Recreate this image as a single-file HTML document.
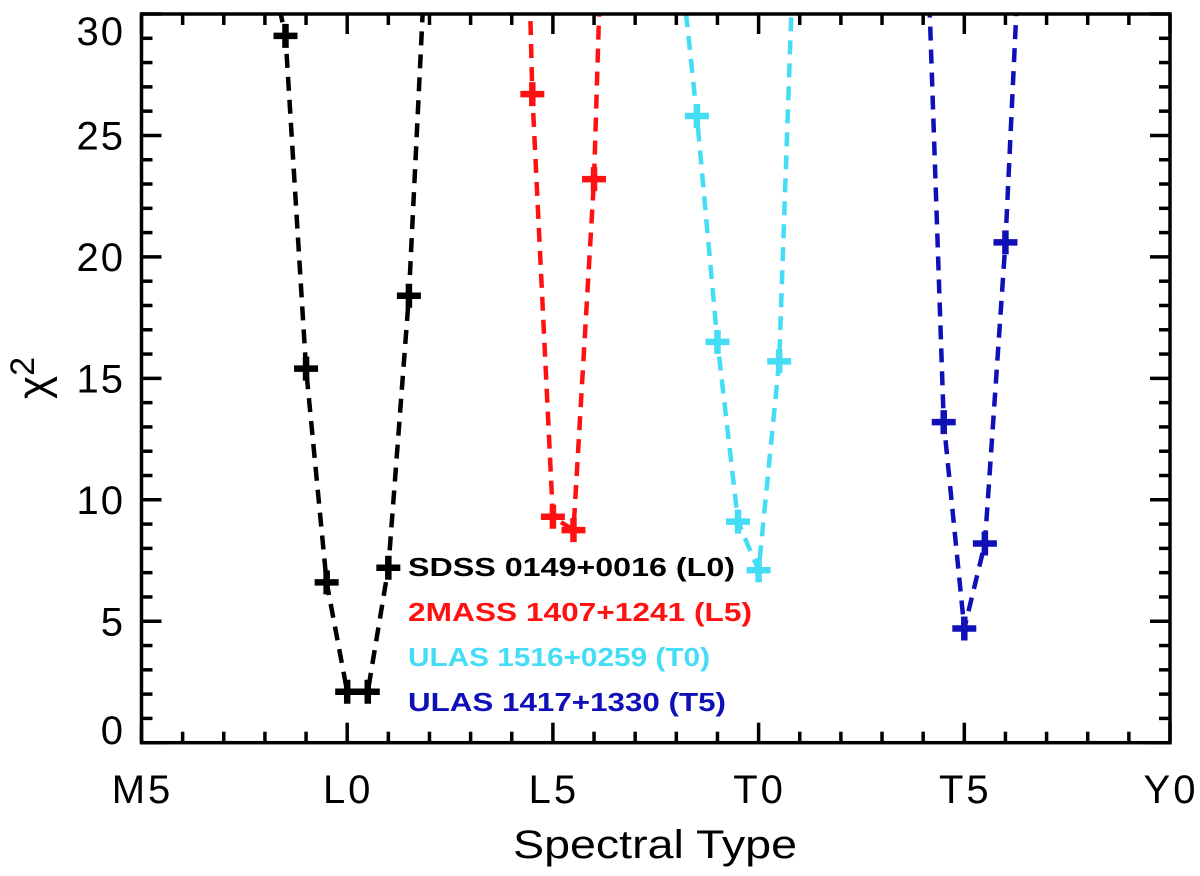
<!DOCTYPE html>
<html><head><meta charset="utf-8"><style>
html,body{margin:0;padding:0;background:#fff;}
svg{display:block;font-family:"Liberation Sans",sans-serif;}
</style></head><body>
<svg id="chart" width="1200" height="876">
<defs><clipPath id="clip"><rect x="141.5" y="14" width="1028.5" height="728.7"/></clipPath></defs>
<g id="series" clip-path="url(#clip)"></g>
<g id="axes"></g>
<g id="legend"></g>
</svg>
<script>
const xTickVals=[-5,0,5,10,15,20];
const xTickLabels=["M5","L0","L5","T0","T5","Y0"];
const yTickVals=[0,5,10,15,20,25,30];
const seriesNames=["SDSS 0149+0016 (L0)","2MASS 1407+1241 (L5)","ULAS 1516+0259 (T0)","ULAS 1417+1330 (T5)"];
const seriesColors=["#000000","#ff1111","#44ddf5","#1010b8"];
const blackX=[-2,-1.5,-1,-0.5,0,0.5,1,1.5,2];
const blackY=[33,29.1,15.4,6.6,2.1,2.1,7.2,18.4,35.8];
const redX=[4,4.5,5,5.5,6,6.5];
const redY=[60,26.7,9.3,8.75,23.2,51];
const cyanX=[8,8.5,9,9.5,10,10.5,11];
const cyanY=[33.8,25.8,16.5,9.1,7.1,15.7,40];
const blueX=[14,14.5,15,15.5,16,16.5];
const blueY=[38,13.2,4.7,8.2,20.6,38.5];
const blackMarks=[1,2,3,4,5,6,7];
const redMarks=[1,2,3,4];
const cyanMarks=[1,2,3,4,5];
const blueMarks=[1,2,3,4];

const L=141.5,R=1170,T=14,B=742.7,xmin=-5,xmax=20,ymin=0,ymax=30;
const sx=v=>L+(v-xmin)/(xmax-xmin)*(R-L);
const sy=v=>B-(v-ymin)/(ymax-ymin)*(B-T);
const NS="http://www.w3.org/2000/svg";
function mk(tag,attrs,parent){const e=document.createElementNS(NS,tag);for(const k in attrs)e.setAttribute(k,attrs[k]);parent.appendChild(e);return e;}
const sg=document.getElementById('series');
const all=[[blackX,blackY,blackMarks],[redX,redY,redMarks],[cyanX,cyanY,cyanMarks],[blueX,blueY,blueMarks]];
all.forEach((s,i)=>{
  const [xs,ys,mks]=s;const c=seriesColors[i];
  const p=mk('polyline',{points:xs.map((x,j)=>sx(x)+','+sy(ys[j])).join(' '),fill:'none',stroke:c,'stroke-width':4.5,'stroke-dasharray':'14 9'},sg);
  
  
  mks.forEach(j=>{
    const x=sx(xs[j]),y=sy(ys[j]);
    const m=mk('path',{d:`M${x-12},${y}H${x+12}M${x},${y-12}V${y+12}`,stroke:c,'stroke-width':6.5},sg);
    
    
  });
});
const ax=document.getElementById('axes');
mk('rect',{x:L,y:T,width:R-L,height:B-T,fill:'none',stroke:'#000','stroke-width':3.5},ax);
for(let v=xmin;v<=xmax;v++){
  const x=sx(v),len=(v%5===0)?20:11;
  mk('line',{x1:x,x2:x,y1:B,y2:B-len,stroke:'#000','stroke-width':3.5},ax);
  mk('line',{x1:x,x2:x,y1:T,y2:T+len,stroke:'#000','stroke-width':3.5},ax);
}
for(let v=ymin;v<=ymax;v++){
  const y=sy(v),len=(v%5===0)?20:11;
  mk('line',{x1:L,x2:L+len,y1:y,y2:y,stroke:'#000','stroke-width':3.5},ax);
  mk('line',{x1:R,x2:R-len,y1:y,y2:y,stroke:'#000','stroke-width':3.5},ax);
}
xTickVals.forEach((v,i)=>{
  const t=mk('text',{x:sx(v)+1,y:803,'font-size':40,'text-anchor':'middle','letter-spacing':3},ax);t.textContent=xTickLabels[i];
  
  
});
yTickVals.forEach(v=>{
  let y=sy(v)+14;if(v===0)y=744;if(v===30)y=45;
  const t=mk('text',{x:125,y:y,'font-size':40,'text-anchor':'end','letter-spacing':2},ax);t.textContent=v;
  
  
});
const xt=mk('text',{x:513,y:858,'font-size':40,textLength:284,lengthAdjust:'spacingAndGlyphs'},ax);xt.textContent='Spectral Type';


const yt=mk('text',{x:0,y:0,'font-size':44,'text-anchor':'middle',transform:'translate(48,378) rotate(-90)'},ax);
yt.innerHTML='χ<tspan font-size="34" dy="-14">2</tspan>';


const lg=document.getElementById('legend');
const legendLens=[327,344,302,318];
seriesNames.forEach((n,i)=>{
  const t=mk('text',{x:408,y:576+i*45,'font-size':26,'font-weight':'bold',fill:seriesColors[i],textLength:legendLens[i],lengthAdjust:'spacingAndGlyphs'},lg);t.textContent=n;
  
  
});
</script>
</body></html>
